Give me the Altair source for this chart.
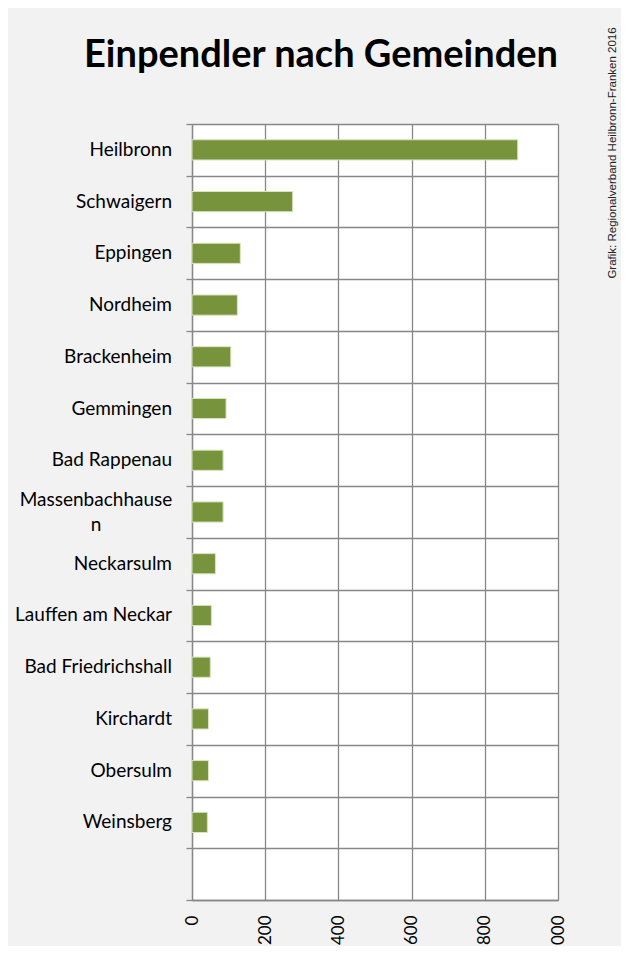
import altair as alt
import pandas as pd

gemeinden = ["Heilbronn", "Schwaigern", "Eppingen", "Nordheim", "Brackenheim",
             "Gemmingen", "Bad Rappenau", "Massenbachhausen", "Neckarsulm",
             "Lauffen am Neckar", "Bad Friedrichshall", "Kirchardt", "Obersulm",
             "Weinsberg"]
einpendler = [890, 275, 132, 124, 106, 93, 85, 85, 64, 53, 50, 45, 45, 42]
x_ticks = [0, 200, 400, 600, 800, 1000]
title_text = "Einpendler nach Gemeinden"
credit_text = "Grafik: Regionalverband Heilbronn-Franken 2016"

wrapped = {"Massenbachhausen": "Massenbachhause\nn"}
labels = [wrapped.get(g, g) for g in gemeinden]
is_wrapped = [g in wrapped for g in gemeinden]

df = pd.DataFrame({"Gemeinde": gemeinden, "Einpendler": einpendler,
                   "Label": labels, "Wrapped": is_wrapped})
domain = gemeinden + [" "]

GRID = "#878787"
FONT = "Lato"

x_label_expr = "replace(format(datum.value, ','), ',', '.')"

y_enc = alt.Y("Gemeinde:N", sort=domain,
              scale=alt.Scale(domain=domain, paddingInner=0, paddingOuter=0),
              axis=alt.Axis(title=None, labels=False, tickBand="extent", grid=True,
                            gridColor=GRID, gridWidth=1.3, tickColor=GRID,
                            tickWidth=1.3, tickSize=6, domainColor=GRID,
                            domainWidth=1.3))

bars = alt.Chart(df).mark_bar(
    color="#77933C", stroke="#D7E4BD", strokeWidth=1,
    height=alt.RelativeBandSize(0.39)
).encode(
    x=alt.X("Einpendler:Q",
            scale=alt.Scale(domain=[0, 1000], nice=False),
            axis=alt.Axis(values=x_ticks, labelAngle=270, labelExpr=x_label_expr,
                          title=None, ticks=False, grid=True, gridColor=GRID,
                          gridWidth=1.3, domainColor=GRID, domainWidth=1.3,
                          labelFont=FONT, labelFontSize=17, labelColor="black",
                          labelPadding=15)),
    y=y_enc,
)

ylabels = alt.Chart(df).transform_filter("!datum.Wrapped").mark_text(
    font=FONT, fontSize=19, color="black", align="right", baseline="middle"
).encode(y=alt.Y("Gemeinde:N", sort=domain), x=alt.value(-20), text="Label:N")

ylabels_wrapped = alt.Chart(df).transform_filter("datum.Wrapped").mark_text(
    font=FONT, fontSize=19, color="black", align="center", baseline="middle",
    lineBreak="\n", lineHeight=25, dy=-12
).encode(y=alt.Y("Gemeinde:N", sort=domain), x=alt.value(-96), text="Label:N")

title = alt.Chart(pd.DataFrame({"t": [title_text]})).mark_text(
    font=FONT, fontSize=38, fontWeight="bold", color="black",
    align="center", baseline="alphabetic"
).encode(text="t:N", x=alt.value(129), y=alt.value(-57))

credit = alt.Chart(pd.DataFrame({"t": [credit_text]})).mark_text(
    angle=270, font="Liberation Sans", fontSize=11.5, color="#222222",
    align="center", baseline="middle"
).encode(text="t:N", x=alt.value(421), y=alt.value(29))

chart = alt.layer(bars, ylabels, ylabels_wrapped, title, credit).properties(
    width=366, height=776,
    autosize=alt.AutoSizeParams(type="none"),
    padding={"left": 184, "top": 116, "right": 63, "bottom": 46},
).configure(background="#F2F2F2").configure_view(fill="white", stroke=None)

chart.save("out.html", embed_options={"renderer": "svg", "actions": False})
